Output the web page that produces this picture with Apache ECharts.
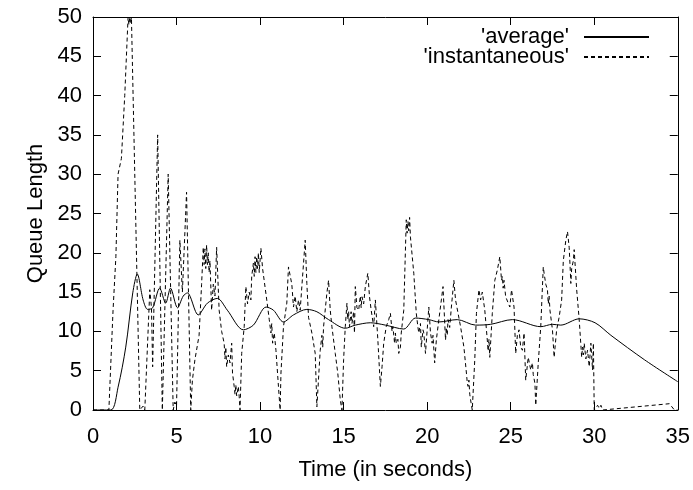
<!DOCTYPE html>
<html>
<head>
<meta charset="utf-8">
<script src="https://cdn.jsdelivr.net/npm/echarts@6/dist/echarts.min.js"></script>
<style>
  html, body { margin: 0; padding: 0; background: #fff; }
  #chart { width: 693px; height: 490px; }
</style>
</head>
<body>
<div id="chart"></div>
<script>
// [time (s), queue length]
var averagePoints = [
  [0, 0], [1.07, 0], [1.5, 2.9], [1.96, 8], [2.38, 14.9], [2.65, 17.3], [3.0, 14], [3.27, 12.8],
  [3.57, 13], [3.99, 15.5], [4.35, 13.6], [4.64, 15.5], [5.06, 13], [5.4, 14.5], [5.65, 14.9],
  [6.3, 12.1], [6.85, 13.6], [7.44, 14.2], [8.04, 12.7], [9.0, 10.2], [9.6, 10.8], [10.36, 13.1],
  [10.8, 12.7], [11.4, 11.2], [12.0, 12.1], [12.8, 12.8], [13.4, 12.5], [14.1, 11.5], [15.1, 10.4],
  [15.7, 10.8], [16.6, 11.1], [17.5, 10.8], [18.6, 10.3], [19.3, 11.7], [20.1, 11.5], [20.7, 11.2],
  [21.8, 11.5], [22.9, 10.8], [23.8, 10.9], [25.1, 11.5], [26.8, 10.6], [27.5, 10.9], [28.0, 10.8],
  [29.1, 11.6], [30.05, 11.1], [31, 9.5], [33, 6.4], [35, 3.6]
];

var instantPoints = [
  [0, 0], [0.95, 0], [1.2, 12.7], [1.37, 19.5], [1.5, 30], [1.7, 32], [1.9, 40], [2.1, 50],
  [2.15, 49], [2.2, 50], [2.25, 49.2], [2.3, 50], [2.38, 50], [2.8, 0], [3.0, 0.5], [3.1, 0],
  [3.4, 15.3], [3.5, 13], [3.57, 5.5], [3.87, 35], [4.15, 0], [4.5, 30], [4.8, 0], [4.9, 1],
  [5.0, 0.5], [5.2, 21.6], [5.35, 15], [5.6, 27.7], [5.85, 0], [5.95, 3.8], [6.1, 6.4], [6.35, 9.5],
  [6.5, 16], [6.6, 20.7], [6.65, 18.5], [6.7, 20.5], [6.75, 18], [6.8, 21], [6.85, 18.5], [6.9, 20],
  [6.95, 17.5], [7.0, 19], [7.1, 12.7], [7.2, 16], [7.3, 14.5], [7.4, 20.7], [7.55, 12.7], [7.7, 10],
  [7.85, 8.5], [7.9, 6.5], [7.95, 8], [8.0, 5.5], [8.1, 7], [8.2, 6], [8.3, 8.5], [8.35, 4.7],
  [8.45, 3], [8.5, 2], [8.55, 3.2], [8.6, 1.8], [8.7, 3], [8.75, 1.7], [8.8, 0], [8.9, 7.2],
  [9.05, 10.6], [9.15, 15.7], [9.25, 13.5], [9.35, 15], [9.45, 14], [9.5, 17], [9.6, 18.7], [9.65, 17],
  [9.7, 19.5], [9.75, 17.5], [9.8, 19.5], [9.85, 18], [9.9, 20], [9.95, 17.5], [10.05, 20.6], [10.15, 18],
  [10.25, 17.8], [10.4, 14], [10.55, 11.5], [10.65, 9.8], [10.7, 11], [10.75, 8.5], [10.85, 9.8],
  [10.95, 7.6], [11.1, 3], [11.2, 0], [11.25, 4.7], [11.4, 10.6], [11.6, 13.6], [11.7, 18.2], [11.9, 16],
  [12.0, 13.1], [12.1, 14.5], [12.2, 12.5], [12.3, 14], [12.4, 12.7], [12.5, 15.7], [12.7, 21.6],
  [12.8, 16.1], [12.9, 11.8], [13.1, 9.8], [13.3, 7.2], [13.4, 0.4], [13.6, 7.6], [13.7, 9.5], [13.75, 8],
  [13.8, 10.6], [14.0, 14.9], [14.1, 16.5], [14.2, 12.7], [14.3, 10.6], [14.5, 7.2], [14.65, 4.7],
  [14.8, 1.3], [14.9, 0], [15.0, 6.4], [15.1, 10.6], [15.2, 13.6], [15.25, 11.5], [15.3, 12.5],
  [15.35, 10.6], [15.45, 12.5], [15.5, 11], [15.6, 12.5], [15.65, 9.8], [15.7, 15.7], [15.8, 13],
  [15.9, 12.7], [16.0, 14.5], [16.05, 13], [16.1, 14.4], [16.2, 13.5], [16.3, 15.7], [16.45, 17.4],
  [16.55, 14.4], [16.65, 12.7], [16.8, 10.6], [16.9, 14], [17.05, 8.9], [17.2, 3], [17.3, 5.5],
  [17.4, 8.5], [17.55, 10.6], [17.7, 11.5], [17.8, 12.3], [17.9, 10], [17.95, 10.6], [18.05, 8.5],
  [18.1, 9.8], [18.15, 8.5], [18.25, 9], [18.3, 7.2], [18.4, 8], [18.45, 9.8], [18.6, 12.7],
  [18.75, 24.2], [18.8, 22.5], [18.85, 24], [18.9, 22.8], [18.95, 24.5], [19.0, 22], [19.2, 17.4],
  [19.35, 12.3], [19.45, 10.5], [19.5, 9.8], [19.6, 11], [19.65, 8], [19.75, 10.2], [19.8, 9.8],
  [19.9, 7.2], [20.1, 13.1], [20.2, 9.8], [20.3, 8.5], [20.35, 9.5], [20.45, 6], [20.55, 8.9],
  [20.7, 11.5], [20.85, 14], [20.95, 15.7], [21.1, 8.9], [21.15, 10.5], [21.2, 9.5], [21.25, 11.5],
  [21.35, 10.5], [21.45, 13.1], [21.6, 16.5], [21.7, 14], [21.85, 12.3], [22.0, 10.6], [22.2, 8],
  [22.35, 4.7], [22.4, 3.5], [22.45, 3], [22.5, 3.8], [22.55, 2], [22.6, 1.3], [22.7, 0], [22.85, 6.4],
  [22.95, 12.3], [23.1, 15.3], [23.2, 14], [23.3, 15], [23.45, 12.7], [23.6, 8.9], [23.65, 7.5],
  [23.7, 9], [23.75, 6.7], [23.9, 12.3], [24.05, 16.5], [24.2, 17.8], [24.35, 19.5], [24.45, 16.5],
  [24.5, 17], [24.55, 15.5], [24.6, 16.5], [24.7, 14.4], [24.95, 13.1], [25.05, 15.3], [25.2, 13.1],
  [25.3, 7.2], [25.4, 9.5], [25.5, 10.2], [25.6, 8], [25.7, 7.6], [25.8, 9.8], [25.9, 3.8], [26.05, 6.7],
  [26.2, 5.1], [26.3, 6], [26.35, 4.5], [26.45, 3.4], [26.5, 0.6], [26.65, 6], [26.8, 10.6], [26.95, 18.2],
  [27.0, 17.4], [27.1, 16], [27.2, 15.3], [27.25, 13.5], [27.3, 14.5], [27.35, 12.7], [27.5, 10.2],
  [27.6, 6.7], [27.75, 10.2], [27.9, 11.8], [28.05, 14], [28.15, 19], [28.3, 21.6], [28.4, 22.7],
  [28.5, 20.7], [28.55, 18.5], [28.6, 16.1], [28.65, 18], [28.75, 19], [28.8, 20.4], [28.95, 15.3],
  [29.1, 11.5], [29.25, 6.7], [29.3, 8], [29.35, 7], [29.4, 8.5], [29.5, 6.5], [29.6, 7.6], [29.7, 5.5],
  [29.8, 8.5], [29.9, 5.1], [29.95, 8.5], [30.0, 0], [30.2, 0.6], [30.3, 0.2], [30.4, 0.6], [30.5, 0],
  [34.5, 0.8], [34.8, 0], [35, 0]
];

var xTicks = [0, 5, 10, 15, 20, 25, 30, 35];
var yTicks = [0, 5, 10, 15, 20, 25, 30, 35, 40, 45, 50];

var font = '"Liberation Sans", Arial, Helvetica, sans-serif';
var fsize = 22;

var axisCommon = {
  axisLine: { show: true, onZero: false, lineStyle: { color: '#000', width: 1 } },
  axisTick: { show: true, inside: true, length: 8, lineStyle: { color: '#000' } },
  splitLine: { show: false }
};

var chart = echarts.init(document.getElementById('chart'), null, { renderer: 'canvas' });
chart.setOption({
  animation: false,
  backgroundColor: '#fff',
  grid: { left: 93, right: 12, top: 17, bottom: 80 },
  legend: {
    orient: 'vertical',
    right: 43,
    top: 26,
    padding: 0,
    align: 'right',
    itemWidth: 65,
    itemHeight: 14,
    itemGap: -2,
    itemStyle: { opacity: 0 },
    textStyle: { fontFamily: font, fontSize: fsize, lineHeight: 19, color: '#000', padding: [0, 10, 0, 0] },
    data: ["'average'", "'instantaneous'"]
  },
  xAxis: [
    Object.assign({
      type: 'value', min: xTicks[0], max: xTicks[xTicks.length - 1], interval: 5,
      name: 'Time (in seconds)', nameLocation: 'middle', nameGap: 49,
      nameTextStyle: { fontFamily: font, fontSize: fsize, color: '#000' },
      axisLabel: { margin: 16, fontFamily: font, fontSize: fsize, color: '#000' }
    }, axisCommon),
    Object.assign({
      type: 'value', position: 'top', min: 0, max: 35, interval: 5,
      axisLabel: { show: false }
    }, axisCommon)
  ],
  yAxis: [
    Object.assign({
      type: 'value', min: yTicks[0], max: yTicks[yTicks.length - 1], interval: 5,
      name: 'Queue Length', nameLocation: 'middle', nameGap: 43, nameRotate: 90,
      nameTextStyle: { fontFamily: font, fontSize: fsize, color: '#000' },
      axisLabel: { margin: 11, fontFamily: font, fontSize: fsize, color: '#000' }
    }, axisCommon),
    Object.assign({
      type: 'value', position: 'right', min: 0, max: 50, interval: 5,
      axisLabel: { show: false }
    }, axisCommon)
  ],
  series: [
    {
      name: "'average'",
      type: 'line',
      data: averagePoints,
      symbol: 'none',
      smooth: 0.3,
      lineStyle: { color: '#000', width: 1 },
      itemStyle: { color: '#000' }
    },
    {
      name: "'instantaneous'",
      type: 'line',
      data: instantPoints,
      symbol: 'none',
      lineStyle: { color: '#000', width: 1, type: [4, 3] },
      itemStyle: { color: '#000' }
    }
  ]
});
</script>
</body>
</html>
